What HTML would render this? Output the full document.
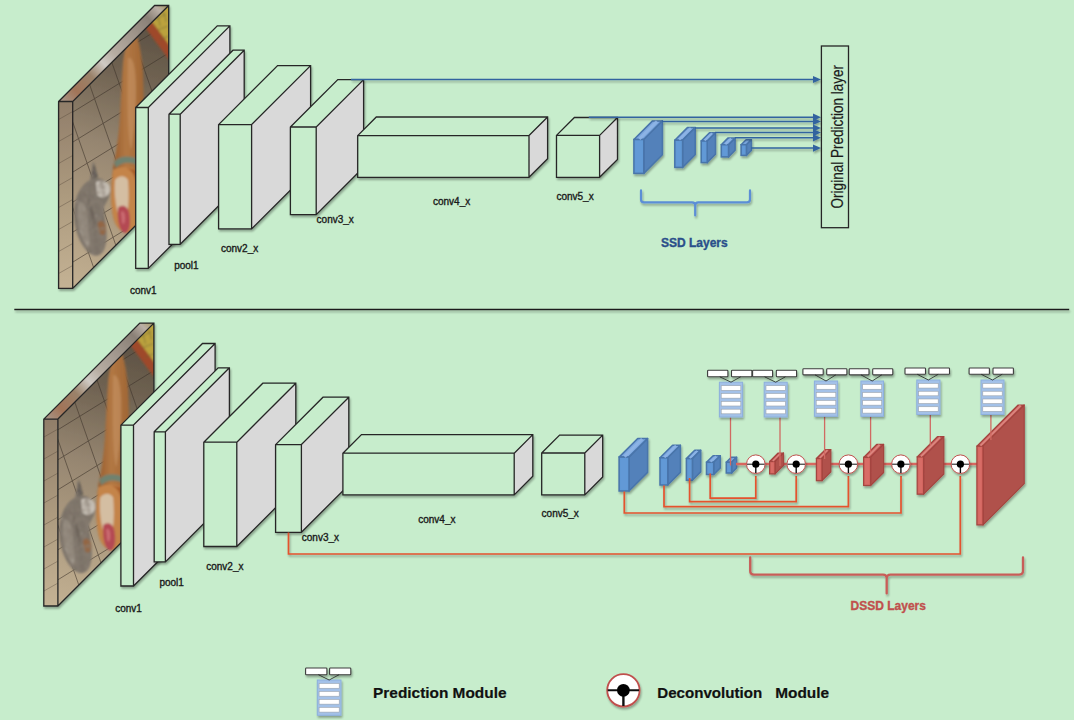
<!DOCTYPE html>
<html><head><meta charset="utf-8"><title>DSSD</title>
<style>
html,body{margin:0;padding:0;background:#c7edcc;}
body{width:1074px;height:720px;overflow:hidden;font-family:"Liberation Sans",sans-serif;}
svg{display:block;}
</style></head><body>
<svg width="1074" height="720" viewBox="0 0 1074 720" font-family="Liberation Sans, sans-serif">
<defs><filter id="sh" filterUnits="userSpaceOnUse" x="-100" y="-100" width="1300" height="1000"><feGaussianBlur in="SourceAlpha" stdDeviation="1.3"/><feOffset dx="0.8" dy="2" result="o"/><feComponentTransfer><feFuncA type="linear" slope="0.32"/></feComponentTransfer><feMerge><feMergeNode/><feMergeNode in="SourceGraphic"/></feMerge></filter></defs>
<rect width="1074" height="720" fill="#c7edcc"/>
<g id="netA"><defs>
<clipPath id="psa"><polygon points="72.7,101.5 168.7,5.5 168.7,192.4 72.7,288.4"/></clipPath>
<clipPath id="pfa"><rect x="58.6" y="101.5" width="14.1" height="186.9"/></clipPath>
<linearGradient id="fla" gradientUnits="userSpaceOnUse" x1="160" y1="10" x2="85" y2="285"><stop offset="0" stop-color="#574c3f"/><stop offset="0.25" stop-color="#706352"/><stop offset="0.5" stop-color="#958570"/><stop offset="0.75" stop-color="#ad9b80"/><stop offset="1" stop-color="#c0ae90"/></linearGradient>
<linearGradient id="ffa" x1="0" y1="0" x2="0" y2="1"><stop offset="0" stop-color="#917e6a"/><stop offset="0.5" stop-color="#ac9a7e"/><stop offset="1" stop-color="#c4b294"/></linearGradient>
<linearGradient id="fta" gradientUnits="userSpaceOnUse" x1="62" y1="104" x2="165" y2="2"><stop offset="0" stop-color="#a8988a"/><stop offset="0.13" stop-color="#a27458"/><stop offset="0.28" stop-color="#9a826a"/><stop offset="0.4" stop-color="#cfcac4"/><stop offset="0.5" stop-color="#b7ada2"/><stop offset="0.68" stop-color="#a0968c"/><stop offset="0.84" stop-color="#8a8076"/><stop offset="0.93" stop-color="#bab0a6"/><stop offset="1" stop-color="#a89a60"/></linearGradient>
<linearGradient id="dga" x1="0" y1="0" x2="1" y2="0"><stop offset="0" stop-color="#945a2c"/><stop offset="0.45" stop-color="#b27844"/><stop offset="1" stop-color="#a06634"/></linearGradient>
<filter id="bla" x="-20%" y="-20%" width="140%" height="140%"><feGaussianBlur stdDeviation="0.9"/></filter>
<filter id="txa" x="0" y="0" width="1" height="1"><feTurbulence type="fractalNoise" baseFrequency="0.18" numOctaves="2" seed="4" result="n"/><feColorMatrix in="n" type="matrix" values="0 0 0 0 0.25  0 0 0 0 0.21  0 0 0 0 0.17  1.8 0 0 0 -0.6" result="m"/><feComposite in="m" in2="SourceGraphic" operator="in"/></filter>
<filter id="tla" x="0" y="0" width="1" height="1"><feTurbulence type="fractalNoise" baseFrequency="0.2" numOctaves="2" seed="9" result="n"/><feColorMatrix in="n" type="matrix" values="0 0 0 0 0.72  0 0 0 0 0.69  0 0 0 0 0.64  1.2 0 0 0 -0.8" result="m"/><feComposite in="m" in2="SourceGraphic" operator="in"/></filter>
</defs>
<g filter="url(#sh)">
<g clip-path="url(#psa)">
<rect x="70" y="0" width="102" height="292" fill="url(#fla)"/>
<g stroke="#3b3128" stroke-width="0.9" opacity="0.62" fill="none">
<line x1="60" y1="-30" x2="180" y2="-104"/>
<line x1="60" y1="0" x2="180" y2="-74"/>
<line x1="60" y1="30" x2="180" y2="-44"/>
<line x1="60" y1="60" x2="180" y2="-14"/>
<line x1="60" y1="90" x2="180" y2="16"/>
<line x1="60" y1="120" x2="180" y2="46"/>
<line x1="60" y1="150" x2="180" y2="76"/>
<line x1="60" y1="180" x2="180" y2="106"/>
<line x1="60" y1="210" x2="180" y2="136"/>
<line x1="60" y1="240" x2="180" y2="166"/>
<line x1="60" y1="270" x2="180" y2="196"/>
<line x1="60" y1="300" x2="180" y2="226"/>
<line x1="60" y1="330" x2="180" y2="256"/>
<line x1="60" y1="360" x2="180" y2="286"/>
<line x1="60" y1="390" x2="180" y2="316"/>
<line x1="-150" y1="0" x2="-45" y2="300"/>
<line x1="-120" y1="0" x2="-15" y2="300"/>
<line x1="-90" y1="0" x2="15" y2="300"/>
<line x1="-60" y1="0" x2="45" y2="300"/>
<line x1="-30" y1="0" x2="75" y2="300"/>
<line x1="0" y1="0" x2="105" y2="300"/>
<line x1="30" y1="0" x2="135" y2="300"/>
<line x1="60" y1="0" x2="165" y2="300"/>
<line x1="90" y1="0" x2="195" y2="300"/>
<line x1="120" y1="0" x2="225" y2="300"/>
<line x1="150" y1="0" x2="255" y2="300"/>
<line x1="180" y1="0" x2="285" y2="300"/>
<line x1="210" y1="0" x2="315" y2="300"/>
<line x1="240" y1="0" x2="345" y2="300"/>
</g>
<g filter="url(#bla)">
<polygon points="144,26 150,19 170,45 170,61" fill="#9e4a2a"/>
<polygon points="150,19 170,3 170,46" fill="#bba23e"/>
<path d="M156 14 C158 18 160 22 160 26 M162 10 C164 14 166 18 166 22 M158 30 C162 28 166 27 168 26 M154 20 C158 18 162 16 166 14 M160 40 C163 38 166 37 169 36" stroke="#6b6436" stroke-width="0.8" fill="none" opacity="0.8"/>
<path d="M127 44 L137 36 C140 46 142 58 143 72 L144 110 L138 150 L137 232 C128 236 118 232 114 220 C110 204 111 184 113 168 C116 154 119 135 120 115 C121 95 122 75 123 62 C124 54 125 48 127 44Z" fill="url(#dga)"/>
<path d="M128 58 C132 56 136 64 136 90 C136 115 134 135 131 150 C128 140 127 110 128 58Z" fill="#d0a070" opacity="0.45"/>
<path d="M114 162 C119 156 129 155 137 159 L137 165 C129 161 120 163 116 168Z" fill="#6f8270"/>
<path d="M113 170 C120 166 130 166 137 170 L137 232 C128 236 118 232 114 220 C110 206 111 186 113 170Z" fill="#c4844a"/>
<path d="M115 180 C119 175 125 175 128 180 C129 192 129 206 127 214 C123 218 118 216 117 210 C115 200 114 190 115 180Z" fill="#d4bea2"/>
<path d="M126 168 C132 170 136 176 137 188 L137 170Z" fill="#a85e2a"/>
<path d="M118 208 C121 204 127 205 129 212 C131 222 130 232 125 233 C120 232 117 222 118 208Z" fill="#b44a52"/>
<path d="M121 212 C123 210 125 212 125 218 C125 224 123 226 122 222Z" fill="#d47a80" opacity="0.7"/>
<path d="M93 161 L97 178 C103 178 108 182 110 190 C110 198 106 202 104 207 C104 220 110 236 104 250 C100 258 92 257 86 250 C78 240 73 225 74 210 C75 195 82 184 90 180 Z" fill="#7b7268"/>
<path d="M78 205 C82 198 88 206 88 222 C88 234 92 244 88 248 C81 240 76 222 78 205Z" fill="#9c9286" opacity="0.8"/>
<path d="M84 192 C90 200 93 214 96 232" stroke="#5a5048" stroke-width="2.5" fill="none" opacity="0.5"/>
<path d="M96 182 C103 178 110 182 110 190 C109 197 102 200 97 195Z" fill="#c9c2b8"/>
<path d="M91 179 L94 163 L98 177Z" fill="#5a544e"/>
<path d="M98 222 C104 218 108 226 105 234 C101 238 97 232 98 222Z" fill="#9a6238" opacity="0.8"/>
<path d="M93 161 L97 178 C103 178 108 182 110 190 C110 198 106 202 104 207 C104 220 110 236 104 250 C100 258 92 257 86 250 C78 240 73 225 74 210 C75 195 82 184 90 180 Z" fill="#000" filter="url(#txa)"/>
<path d="M93 161 L97 178 C103 178 108 182 110 190 C110 198 106 202 104 207 C104 220 110 236 104 250 C100 258 92 257 86 250 C78 240 73 225 74 210 C75 195 82 184 90 180 Z" fill="#000" filter="url(#tla)"/>
</g></g>
<rect x="58.6" y="101.5" width="14.1" height="186.9" fill="url(#ffa)"/>
<g clip-path="url(#pfa)">
<line x1="58.6" y1="119.5" x2="72.7" y2="111.5" stroke="#4a3e32" stroke-width="0.7" opacity="0.5"/>
<line x1="58.6" y1="141.5" x2="72.7" y2="133.5" stroke="#4a3e32" stroke-width="0.7" opacity="0.5"/>
<line x1="58.6" y1="163.5" x2="72.7" y2="155.5" stroke="#4a3e32" stroke-width="0.7" opacity="0.5"/>
<line x1="58.6" y1="185.5" x2="72.7" y2="177.5" stroke="#4a3e32" stroke-width="0.7" opacity="0.5"/>
<line x1="58.6" y1="207.5" x2="72.7" y2="199.5" stroke="#4a3e32" stroke-width="0.7" opacity="0.5"/>
<line x1="58.6" y1="229.5" x2="72.7" y2="221.5" stroke="#4a3e32" stroke-width="0.7" opacity="0.5"/>
<line x1="58.6" y1="251.5" x2="72.7" y2="243.5" stroke="#4a3e32" stroke-width="0.7" opacity="0.5"/>
<line x1="58.6" y1="273.5" x2="72.7" y2="265.5" stroke="#4a3e32" stroke-width="0.7" opacity="0.5"/>
<line x1="58.6" y1="295.5" x2="72.7" y2="287.5" stroke="#4a3e32" stroke-width="0.7" opacity="0.5"/>
<line x1="58.6" y1="317.5" x2="72.7" y2="309.5" stroke="#4a3e32" stroke-width="0.7" opacity="0.5"/>
</g>
<polygon points="58.6,101.5 154.6,5.5 168.7,5.5 72.7,101.5" fill="url(#fta)"/>
<path d="M58.6 101.5L154.6 5.5L168.7 5.5L168.7 192.4L72.7 288.4L58.6 288.4Z M58.6 101.5L72.7 101.5 M72.7 288.4L72.7 101.5L168.7 5.5" fill="none" stroke="#262626" stroke-width="1.3"/>
</g>
<g filter="url(#sh)">
<polygon points="135.7,107.5 217.3,25.9 229.9,25.9 148.3,107.5" fill="#c7edcc"/>
<polygon points="148.3,107.5 229.9,25.9 229.9,186.8 148.3,268.4" fill="#d9d9d9"/>
<rect x="135.7" y="107.5" width="12.6" height="160.9" fill="#c7edcc"/>
<path d="M135.7 107.5L217.3 25.9L229.9 25.9L229.9 186.8L148.3 268.4L135.7 268.4Z M135.7 107.5L148.3 107.5 M148.3 268.4L148.3 107.5L229.9 25.9" fill="none" stroke="#262626" stroke-width="1.3" stroke-linejoin="miter"/>
</g>
<g filter="url(#sh)">
<polygon points="169,114.2 233,50.2 244.2,50.2 180.2,114.2" fill="#c7edcc"/>
<polygon points="180.2,114.2 244.2,50.2 244.2,180.3 180.2,244.3" fill="#d9d9d9"/>
<rect x="169" y="114.2" width="11.2" height="130.1" fill="#c7edcc"/>
<path d="M169 114.2L233 50.2L244.2 50.2L244.2 180.3L180.2 244.3L169 244.3Z M169 114.2L180.2 114.2 M180.2 244.3L180.2 114.2L244.2 50.2" fill="none" stroke="#262626" stroke-width="1.3" stroke-linejoin="miter"/>
</g>
<g filter="url(#sh)">
<polygon points="218.6,124.6 277.6,65.6 310.6,65.6 251.6,124.6" fill="#c7edcc"/>
<polygon points="251.6,124.6 310.6,65.6 310.6,169.9 251.6,228.9" fill="#d9d9d9"/>
<rect x="218.6" y="124.6" width="33" height="104.3" fill="#c7edcc"/>
<path d="M218.6 124.6L277.6 65.6L310.6 65.6L310.6 169.9L251.6 228.9L218.6 228.9Z M218.6 124.6L251.6 124.6 M251.6 228.9L251.6 124.6L310.6 65.6" fill="none" stroke="#262626" stroke-width="1.3" stroke-linejoin="miter"/>
</g>
<g filter="url(#sh)">
<polygon points="290.4,127 337.8,79.6 363.6,79.6 316.2,127" fill="#c7edcc"/>
<polygon points="316.2,127 363.6,79.6 363.6,167.3 316.2,214.7" fill="#d9d9d9"/>
<rect x="290.4" y="127" width="25.8" height="87.7" fill="#c7edcc"/>
<path d="M290.4 127L337.8 79.6L363.6 79.6L363.6 167.3L316.2 214.7L290.4 214.7Z M290.4 127L316.2 127 M316.2 214.7L316.2 127L363.6 79.6" fill="none" stroke="#262626" stroke-width="1.3" stroke-linejoin="miter"/>
</g>
<g filter="url(#sh)">
<polygon points="357.7,135.6 376.3,117 547.6,117 529,135.6" fill="#c7edcc"/>
<polygon points="529,135.6 547.6,117 547.6,158.7 529,177.3" fill="#d9d9d9"/>
<rect x="357.7" y="135.6" width="171.3" height="41.7" fill="#c7edcc"/>
<path d="M357.7 135.6L376.3 117L547.6 117L547.6 158.7L529 177.3L357.7 177.3Z M357.7 135.6L529 135.6 M529 177.3L529 135.6L547.6 117" fill="none" stroke="#262626" stroke-width="1.3" stroke-linejoin="miter"/>
</g>
<g filter="url(#sh)">
<polygon points="556.5,135.4 574.4,117.5 617.5,117.5 599.6,135.4" fill="#c7edcc"/>
<polygon points="599.6,135.4 617.5,117.5 617.5,159.4 599.6,177.3" fill="#d9d9d9"/>
<rect x="556.5" y="135.4" width="43.1" height="41.9" fill="#c7edcc"/>
<path d="M556.5 135.4L574.4 117.5L617.5 117.5L617.5 159.4L599.6 177.3L556.5 177.3Z M556.5 135.4L599.6 135.4 M599.6 177.3L599.6 135.4L617.5 117.5" fill="none" stroke="#262626" stroke-width="1.3" stroke-linejoin="miter"/>
</g>
<g filter="url(#sh)">
<polygon points="633.9,139.5 652.5,120.9 662.4,120.9 643.8,139.5" fill="#7aa6dd" stroke="#4874aa" stroke-width="1.5" stroke-linejoin="round"/>
<polygon points="643.8,139.5 662.4,120.9 662.4,154.8 643.8,173.4" fill="#5381ba" stroke="#4874aa" stroke-width="1.5" stroke-linejoin="round"/>
<rect x="633.9" y="139.5" width="9.9" height="33.9" fill="#6198d5" stroke="#4874aa" stroke-width="1.5"/>
<line x1="639.35" y1="139" x2="656.95" y2="121.4" stroke="#8fb5e6" stroke-width="2.97" stroke-linecap="butt" opacity="0.9"/>
<rect x="635.6" y="141" width="6.5" height="30.9" fill="#6299d6"/>
</g>
<g filter="url(#sh)">
<polygon points="674.8,140.2 687.4,127.6 695.2,127.6 682.6,140.2" fill="#7aa6dd" stroke="#4874aa" stroke-width="1.5" stroke-linejoin="round"/>
<polygon points="682.6,140.2 695.2,127.6 695.2,154.8 682.6,167.4" fill="#5381ba" stroke="#4874aa" stroke-width="1.5" stroke-linejoin="round"/>
<rect x="674.8" y="140.2" width="7.8" height="27.2" fill="#6198d5" stroke="#4874aa" stroke-width="1.5"/>
<line x1="679.2" y1="139.7" x2="690.8" y2="128.1" stroke="#8fb5e6" stroke-width="2.34" stroke-linecap="butt" opacity="0.9"/>
<rect x="676.5" y="141.7" width="4.4" height="24.2" fill="#6299d6"/>
</g>
<g filter="url(#sh)">
<polygon points="701.2,141 709.5,132.7 715.5,132.7 707.2,141" fill="#7aa6dd" stroke="#4874aa" stroke-width="1.5" stroke-linejoin="round"/>
<polygon points="707.2,141 715.5,132.7 715.5,154.3 707.2,162.6" fill="#5381ba" stroke="#4874aa" stroke-width="1.5" stroke-linejoin="round"/>
<rect x="701.2" y="141" width="6" height="21.6" fill="#6198d5" stroke="#4874aa" stroke-width="1.5"/>
<line x1="704.7" y1="140.5" x2="712" y2="133.2" stroke="#8fb5e6" stroke-width="1.8" stroke-linecap="butt" opacity="0.9"/>
<rect x="702.9" y="142.5" width="2.6" height="18.6" fill="#6299d6"/>
</g>
<g filter="url(#sh)">
<polygon points="721.3,144.7 727.9,138.1 735.1,138.1 728.5,144.7" fill="#7aa6dd" stroke="#4874aa" stroke-width="1.5" stroke-linejoin="round"/>
<polygon points="728.5,144.7 735.1,138.1 735.1,150.3 728.5,156.9" fill="#5381ba" stroke="#4874aa" stroke-width="1.5" stroke-linejoin="round"/>
<rect x="721.3" y="144.7" width="7.2" height="12.2" fill="#6198d5" stroke="#4874aa" stroke-width="1.5"/>
<line x1="725.4" y1="144.2" x2="731" y2="138.6" stroke="#8fb5e6" stroke-width="2.16" stroke-linecap="butt" opacity="0.9"/>
<rect x="723" y="146.2" width="3.8" height="9.2" fill="#6299d6"/>
</g>
<g filter="url(#sh)">
<polygon points="741.1,144.7 746.1,139.7 751.4,139.7 746.4,144.7" fill="#7aa6dd" stroke="#4874aa" stroke-width="1.5" stroke-linejoin="round"/>
<polygon points="746.4,144.7 751.4,139.7 751.4,150.4 746.4,155.4" fill="#5381ba" stroke="#4874aa" stroke-width="1.5" stroke-linejoin="round"/>
<rect x="741.1" y="144.7" width="5.3" height="10.7" fill="#6198d5" stroke="#4874aa" stroke-width="1.5"/>
<rect x="742.8" y="146.2" width="1.9" height="7.7" fill="#6299d6"/>
</g>
<text x="130" y="294" font-size="10" fill="#1a1a1a" font-weight="normal" stroke="#1a1a1a" stroke-width="0.35">conv1</text>
<text x="174.2" y="268.5" font-size="10" fill="#1a1a1a" font-weight="normal" stroke="#1a1a1a" stroke-width="0.35">pool1</text>
<text x="221" y="252.3" font-size="10" fill="#1a1a1a" font-weight="normal" stroke="#1a1a1a" stroke-width="0.35">conv2_x</text>
<text x="316.6" y="223.2" font-size="10" fill="#1a1a1a" font-weight="normal" stroke="#1a1a1a" stroke-width="0.35">conv3_x</text>
<text x="433" y="205.1" font-size="10" fill="#1a1a1a" font-weight="normal" stroke="#1a1a1a" stroke-width="0.35">conv4_x</text>
<text x="556.4" y="199.7" font-size="10" fill="#1a1a1a" font-weight="normal" stroke="#1a1a1a" stroke-width="0.35">conv5_x</text></g>
<g filter="url(#sh)">
<line x1="351" y1="79.5" x2="814" y2="79.5" stroke="#33649f" stroke-width="1.5"/>
<polygon points="813,75.9 821,79.5 813,83.1" fill="#33649f"/>
<line x1="588.8" y1="117.2" x2="814" y2="117.2" stroke="#33649f" stroke-width="1.5"/>
<polygon points="813,113.6 821,117.2 813,120.8" fill="#33649f"/>
<line x1="662" y1="121.4" x2="814" y2="121.4" stroke="#33649f" stroke-width="1.5"/>
<polygon points="813,117.8 821,121.4 813,125" fill="#33649f"/>
<line x1="695" y1="128" x2="814" y2="128" stroke="#33649f" stroke-width="1.5"/>
<polygon points="813,124.4 821,128 813,131.6" fill="#33649f"/>
<line x1="715" y1="132.6" x2="814" y2="132.6" stroke="#33649f" stroke-width="1.5"/>
<polygon points="813,129 821,132.6 813,136.2" fill="#33649f"/>
<line x1="735" y1="137.8" x2="814" y2="137.8" stroke="#33649f" stroke-width="1.5"/>
<polygon points="813,134.2 821,137.8 813,141.4" fill="#33649f"/>
<line x1="751" y1="148.1" x2="814" y2="148.1" stroke="#33649f" stroke-width="1.5"/>
<polygon points="813,144.5 821,148.1 813,151.7" fill="#33649f"/>
</g>
<rect x="821.4" y="46" width="27.1" height="181.7" fill="none" stroke="#262626" stroke-width="1.3"/>
<text transform="translate(842.6,136.7) rotate(-90)" x="-71.7" y="0" textLength="143.4" lengthAdjust="spacingAndGlyphs" font-size="16" fill="#1a1a1a" stroke="#1a1a1a" stroke-width="0.2">Original Prediction layer</text>
<path filter="url(#sh)" d="M641 190.4 V199.5 Q641 202.3 644 202.3 H692 Q695.2 202.3 695.2 205.5 V215.5 M695.2 205.5 Q695.2 202.3 698.4 202.3 H747 Q750 202.3 750 199.5 V190.4" fill="none" stroke="#5b8ed6" stroke-width="2.2" stroke-linecap="round"/>
<text x="661" y="247.2" font-size="12" fill="#2a4f8a" font-weight="bold" stroke="#2a4f8a" stroke-width="0.35">SSD Layers</text>
<line filter="url(#sh)" x1="14.3" y1="309.5" x2="1069.2" y2="309.5" stroke="#1e1e1e" stroke-width="1.4"/>
<g transform="translate(-14.8,317.6)"><defs>
<clipPath id="psb"><polygon points="72.7,101.5 168.7,5.5 168.7,192.4 72.7,288.4"/></clipPath>
<clipPath id="pfb"><rect x="58.6" y="101.5" width="14.1" height="186.9"/></clipPath>
<linearGradient id="flb" gradientUnits="userSpaceOnUse" x1="160" y1="10" x2="85" y2="285"><stop offset="0" stop-color="#574c3f"/><stop offset="0.25" stop-color="#706352"/><stop offset="0.5" stop-color="#958570"/><stop offset="0.75" stop-color="#ad9b80"/><stop offset="1" stop-color="#c0ae90"/></linearGradient>
<linearGradient id="ffb" x1="0" y1="0" x2="0" y2="1"><stop offset="0" stop-color="#917e6a"/><stop offset="0.5" stop-color="#ac9a7e"/><stop offset="1" stop-color="#c4b294"/></linearGradient>
<linearGradient id="ftb" gradientUnits="userSpaceOnUse" x1="62" y1="104" x2="165" y2="2"><stop offset="0" stop-color="#a8988a"/><stop offset="0.13" stop-color="#a27458"/><stop offset="0.28" stop-color="#9a826a"/><stop offset="0.4" stop-color="#cfcac4"/><stop offset="0.5" stop-color="#b7ada2"/><stop offset="0.68" stop-color="#a0968c"/><stop offset="0.84" stop-color="#8a8076"/><stop offset="0.93" stop-color="#bab0a6"/><stop offset="1" stop-color="#a89a60"/></linearGradient>
<linearGradient id="dgb" x1="0" y1="0" x2="1" y2="0"><stop offset="0" stop-color="#945a2c"/><stop offset="0.45" stop-color="#b27844"/><stop offset="1" stop-color="#a06634"/></linearGradient>
<filter id="blb" x="-20%" y="-20%" width="140%" height="140%"><feGaussianBlur stdDeviation="0.9"/></filter>
<filter id="txb" x="0" y="0" width="1" height="1"><feTurbulence type="fractalNoise" baseFrequency="0.18" numOctaves="2" seed="4" result="n"/><feColorMatrix in="n" type="matrix" values="0 0 0 0 0.25  0 0 0 0 0.21  0 0 0 0 0.17  1.8 0 0 0 -0.6" result="m"/><feComposite in="m" in2="SourceGraphic" operator="in"/></filter>
<filter id="tlb" x="0" y="0" width="1" height="1"><feTurbulence type="fractalNoise" baseFrequency="0.2" numOctaves="2" seed="9" result="n"/><feColorMatrix in="n" type="matrix" values="0 0 0 0 0.72  0 0 0 0 0.69  0 0 0 0 0.64  1.2 0 0 0 -0.8" result="m"/><feComposite in="m" in2="SourceGraphic" operator="in"/></filter>
</defs>
<g filter="url(#sh)">
<g clip-path="url(#psb)">
<rect x="70" y="0" width="102" height="292" fill="url(#flb)"/>
<g stroke="#3b3128" stroke-width="0.9" opacity="0.62" fill="none">
<line x1="60" y1="-30" x2="180" y2="-104"/>
<line x1="60" y1="0" x2="180" y2="-74"/>
<line x1="60" y1="30" x2="180" y2="-44"/>
<line x1="60" y1="60" x2="180" y2="-14"/>
<line x1="60" y1="90" x2="180" y2="16"/>
<line x1="60" y1="120" x2="180" y2="46"/>
<line x1="60" y1="150" x2="180" y2="76"/>
<line x1="60" y1="180" x2="180" y2="106"/>
<line x1="60" y1="210" x2="180" y2="136"/>
<line x1="60" y1="240" x2="180" y2="166"/>
<line x1="60" y1="270" x2="180" y2="196"/>
<line x1="60" y1="300" x2="180" y2="226"/>
<line x1="60" y1="330" x2="180" y2="256"/>
<line x1="60" y1="360" x2="180" y2="286"/>
<line x1="60" y1="390" x2="180" y2="316"/>
<line x1="-150" y1="0" x2="-45" y2="300"/>
<line x1="-120" y1="0" x2="-15" y2="300"/>
<line x1="-90" y1="0" x2="15" y2="300"/>
<line x1="-60" y1="0" x2="45" y2="300"/>
<line x1="-30" y1="0" x2="75" y2="300"/>
<line x1="0" y1="0" x2="105" y2="300"/>
<line x1="30" y1="0" x2="135" y2="300"/>
<line x1="60" y1="0" x2="165" y2="300"/>
<line x1="90" y1="0" x2="195" y2="300"/>
<line x1="120" y1="0" x2="225" y2="300"/>
<line x1="150" y1="0" x2="255" y2="300"/>
<line x1="180" y1="0" x2="285" y2="300"/>
<line x1="210" y1="0" x2="315" y2="300"/>
<line x1="240" y1="0" x2="345" y2="300"/>
</g>
<g filter="url(#blb)">
<polygon points="144,26 150,19 170,45 170,61" fill="#9e4a2a"/>
<polygon points="150,19 170,3 170,46" fill="#bba23e"/>
<path d="M156 14 C158 18 160 22 160 26 M162 10 C164 14 166 18 166 22 M158 30 C162 28 166 27 168 26 M154 20 C158 18 162 16 166 14 M160 40 C163 38 166 37 169 36" stroke="#6b6436" stroke-width="0.8" fill="none" opacity="0.8"/>
<path d="M127 44 L137 36 C140 46 142 58 143 72 L144 110 L138 150 L137 232 C128 236 118 232 114 220 C110 204 111 184 113 168 C116 154 119 135 120 115 C121 95 122 75 123 62 C124 54 125 48 127 44Z" fill="url(#dgb)"/>
<path d="M128 58 C132 56 136 64 136 90 C136 115 134 135 131 150 C128 140 127 110 128 58Z" fill="#d0a070" opacity="0.45"/>
<path d="M114 162 C119 156 129 155 137 159 L137 165 C129 161 120 163 116 168Z" fill="#6f8270"/>
<path d="M113 170 C120 166 130 166 137 170 L137 232 C128 236 118 232 114 220 C110 206 111 186 113 170Z" fill="#c4844a"/>
<path d="M115 180 C119 175 125 175 128 180 C129 192 129 206 127 214 C123 218 118 216 117 210 C115 200 114 190 115 180Z" fill="#d4bea2"/>
<path d="M126 168 C132 170 136 176 137 188 L137 170Z" fill="#a85e2a"/>
<path d="M118 208 C121 204 127 205 129 212 C131 222 130 232 125 233 C120 232 117 222 118 208Z" fill="#b44a52"/>
<path d="M121 212 C123 210 125 212 125 218 C125 224 123 226 122 222Z" fill="#d47a80" opacity="0.7"/>
<path d="M93 161 L97 178 C103 178 108 182 110 190 C110 198 106 202 104 207 C104 220 110 236 104 250 C100 258 92 257 86 250 C78 240 73 225 74 210 C75 195 82 184 90 180 Z" fill="#7b7268"/>
<path d="M78 205 C82 198 88 206 88 222 C88 234 92 244 88 248 C81 240 76 222 78 205Z" fill="#9c9286" opacity="0.8"/>
<path d="M84 192 C90 200 93 214 96 232" stroke="#5a5048" stroke-width="2.5" fill="none" opacity="0.5"/>
<path d="M96 182 C103 178 110 182 110 190 C109 197 102 200 97 195Z" fill="#c9c2b8"/>
<path d="M91 179 L94 163 L98 177Z" fill="#5a544e"/>
<path d="M98 222 C104 218 108 226 105 234 C101 238 97 232 98 222Z" fill="#9a6238" opacity="0.8"/>
<path d="M93 161 L97 178 C103 178 108 182 110 190 C110 198 106 202 104 207 C104 220 110 236 104 250 C100 258 92 257 86 250 C78 240 73 225 74 210 C75 195 82 184 90 180 Z" fill="#000" filter="url(#txb)"/>
<path d="M93 161 L97 178 C103 178 108 182 110 190 C110 198 106 202 104 207 C104 220 110 236 104 250 C100 258 92 257 86 250 C78 240 73 225 74 210 C75 195 82 184 90 180 Z" fill="#000" filter="url(#tlb)"/>
</g></g>
<rect x="58.6" y="101.5" width="14.1" height="186.9" fill="url(#ffb)"/>
<g clip-path="url(#pfb)">
<line x1="58.6" y1="119.5" x2="72.7" y2="111.5" stroke="#4a3e32" stroke-width="0.7" opacity="0.5"/>
<line x1="58.6" y1="141.5" x2="72.7" y2="133.5" stroke="#4a3e32" stroke-width="0.7" opacity="0.5"/>
<line x1="58.6" y1="163.5" x2="72.7" y2="155.5" stroke="#4a3e32" stroke-width="0.7" opacity="0.5"/>
<line x1="58.6" y1="185.5" x2="72.7" y2="177.5" stroke="#4a3e32" stroke-width="0.7" opacity="0.5"/>
<line x1="58.6" y1="207.5" x2="72.7" y2="199.5" stroke="#4a3e32" stroke-width="0.7" opacity="0.5"/>
<line x1="58.6" y1="229.5" x2="72.7" y2="221.5" stroke="#4a3e32" stroke-width="0.7" opacity="0.5"/>
<line x1="58.6" y1="251.5" x2="72.7" y2="243.5" stroke="#4a3e32" stroke-width="0.7" opacity="0.5"/>
<line x1="58.6" y1="273.5" x2="72.7" y2="265.5" stroke="#4a3e32" stroke-width="0.7" opacity="0.5"/>
<line x1="58.6" y1="295.5" x2="72.7" y2="287.5" stroke="#4a3e32" stroke-width="0.7" opacity="0.5"/>
<line x1="58.6" y1="317.5" x2="72.7" y2="309.5" stroke="#4a3e32" stroke-width="0.7" opacity="0.5"/>
</g>
<polygon points="58.6,101.5 154.6,5.5 168.7,5.5 72.7,101.5" fill="url(#ftb)"/>
<path d="M58.6 101.5L154.6 5.5L168.7 5.5L168.7 192.4L72.7 288.4L58.6 288.4Z M58.6 101.5L72.7 101.5 M72.7 288.4L72.7 101.5L168.7 5.5" fill="none" stroke="#262626" stroke-width="1.3"/>
</g>
<g filter="url(#sh)">
<polygon points="135.7,107.5 217.3,25.9 229.9,25.9 148.3,107.5" fill="#c7edcc"/>
<polygon points="148.3,107.5 229.9,25.9 229.9,186.8 148.3,268.4" fill="#d9d9d9"/>
<rect x="135.7" y="107.5" width="12.6" height="160.9" fill="#c7edcc"/>
<path d="M135.7 107.5L217.3 25.9L229.9 25.9L229.9 186.8L148.3 268.4L135.7 268.4Z M135.7 107.5L148.3 107.5 M148.3 268.4L148.3 107.5L229.9 25.9" fill="none" stroke="#262626" stroke-width="1.3" stroke-linejoin="miter"/>
</g>
<g filter="url(#sh)">
<polygon points="169,114.2 233,50.2 244.2,50.2 180.2,114.2" fill="#c7edcc"/>
<polygon points="180.2,114.2 244.2,50.2 244.2,180.3 180.2,244.3" fill="#d9d9d9"/>
<rect x="169" y="114.2" width="11.2" height="130.1" fill="#c7edcc"/>
<path d="M169 114.2L233 50.2L244.2 50.2L244.2 180.3L180.2 244.3L169 244.3Z M169 114.2L180.2 114.2 M180.2 244.3L180.2 114.2L244.2 50.2" fill="none" stroke="#262626" stroke-width="1.3" stroke-linejoin="miter"/>
</g>
<g filter="url(#sh)">
<polygon points="218.6,124.6 277.6,65.6 310.6,65.6 251.6,124.6" fill="#c7edcc"/>
<polygon points="251.6,124.6 310.6,65.6 310.6,169.9 251.6,228.9" fill="#d9d9d9"/>
<rect x="218.6" y="124.6" width="33" height="104.3" fill="#c7edcc"/>
<path d="M218.6 124.6L277.6 65.6L310.6 65.6L310.6 169.9L251.6 228.9L218.6 228.9Z M218.6 124.6L251.6 124.6 M251.6 228.9L251.6 124.6L310.6 65.6" fill="none" stroke="#262626" stroke-width="1.3" stroke-linejoin="miter"/>
</g>
<g filter="url(#sh)">
<polygon points="290.4,127 337.8,79.6 363.6,79.6 316.2,127" fill="#c7edcc"/>
<polygon points="316.2,127 363.6,79.6 363.6,167.3 316.2,214.7" fill="#d9d9d9"/>
<rect x="290.4" y="127" width="25.8" height="87.7" fill="#c7edcc"/>
<path d="M290.4 127L337.8 79.6L363.6 79.6L363.6 167.3L316.2 214.7L290.4 214.7Z M290.4 127L316.2 127 M316.2 214.7L316.2 127L363.6 79.6" fill="none" stroke="#262626" stroke-width="1.3" stroke-linejoin="miter"/>
</g>
<g filter="url(#sh)">
<polygon points="357.7,135.6 376.3,117 547.6,117 529,135.6" fill="#c7edcc"/>
<polygon points="529,135.6 547.6,117 547.6,158.7 529,177.3" fill="#d9d9d9"/>
<rect x="357.7" y="135.6" width="171.3" height="41.7" fill="#c7edcc"/>
<path d="M357.7 135.6L376.3 117L547.6 117L547.6 158.7L529 177.3L357.7 177.3Z M357.7 135.6L529 135.6 M529 177.3L529 135.6L547.6 117" fill="none" stroke="#262626" stroke-width="1.3" stroke-linejoin="miter"/>
</g>
<g filter="url(#sh)">
<polygon points="556.5,135.4 574.4,117.5 617.5,117.5 599.6,135.4" fill="#c7edcc"/>
<polygon points="599.6,135.4 617.5,117.5 617.5,159.4 599.6,177.3" fill="#d9d9d9"/>
<rect x="556.5" y="135.4" width="43.1" height="41.9" fill="#c7edcc"/>
<path d="M556.5 135.4L574.4 117.5L617.5 117.5L617.5 159.4L599.6 177.3L556.5 177.3Z M556.5 135.4L599.6 135.4 M599.6 177.3L599.6 135.4L617.5 117.5" fill="none" stroke="#262626" stroke-width="1.3" stroke-linejoin="miter"/>
</g>
<g filter="url(#sh)">
<polygon points="633.9,139.5 652.5,120.9 662.4,120.9 643.8,139.5" fill="#7aa6dd" stroke="#4874aa" stroke-width="1.5" stroke-linejoin="round"/>
<polygon points="643.8,139.5 662.4,120.9 662.4,154.8 643.8,173.4" fill="#5381ba" stroke="#4874aa" stroke-width="1.5" stroke-linejoin="round"/>
<rect x="633.9" y="139.5" width="9.9" height="33.9" fill="#6198d5" stroke="#4874aa" stroke-width="1.5"/>
<line x1="639.35" y1="139" x2="656.95" y2="121.4" stroke="#8fb5e6" stroke-width="2.97" stroke-linecap="butt" opacity="0.9"/>
<rect x="635.6" y="141" width="6.5" height="30.9" fill="#6299d6"/>
</g>
<g filter="url(#sh)">
<polygon points="674.8,140.2 687.4,127.6 695.2,127.6 682.6,140.2" fill="#7aa6dd" stroke="#4874aa" stroke-width="1.5" stroke-linejoin="round"/>
<polygon points="682.6,140.2 695.2,127.6 695.2,154.8 682.6,167.4" fill="#5381ba" stroke="#4874aa" stroke-width="1.5" stroke-linejoin="round"/>
<rect x="674.8" y="140.2" width="7.8" height="27.2" fill="#6198d5" stroke="#4874aa" stroke-width="1.5"/>
<line x1="679.2" y1="139.7" x2="690.8" y2="128.1" stroke="#8fb5e6" stroke-width="2.34" stroke-linecap="butt" opacity="0.9"/>
<rect x="676.5" y="141.7" width="4.4" height="24.2" fill="#6299d6"/>
</g>
<g filter="url(#sh)">
<polygon points="701.2,141 709.5,132.7 715.5,132.7 707.2,141" fill="#7aa6dd" stroke="#4874aa" stroke-width="1.5" stroke-linejoin="round"/>
<polygon points="707.2,141 715.5,132.7 715.5,154.3 707.2,162.6" fill="#5381ba" stroke="#4874aa" stroke-width="1.5" stroke-linejoin="round"/>
<rect x="701.2" y="141" width="6" height="21.6" fill="#6198d5" stroke="#4874aa" stroke-width="1.5"/>
<line x1="704.7" y1="140.5" x2="712" y2="133.2" stroke="#8fb5e6" stroke-width="1.8" stroke-linecap="butt" opacity="0.9"/>
<rect x="702.9" y="142.5" width="2.6" height="18.6" fill="#6299d6"/>
</g>
<g filter="url(#sh)">
<polygon points="721.3,144.7 727.9,138.1 735.1,138.1 728.5,144.7" fill="#7aa6dd" stroke="#4874aa" stroke-width="1.5" stroke-linejoin="round"/>
<polygon points="728.5,144.7 735.1,138.1 735.1,150.3 728.5,156.9" fill="#5381ba" stroke="#4874aa" stroke-width="1.5" stroke-linejoin="round"/>
<rect x="721.3" y="144.7" width="7.2" height="12.2" fill="#6198d5" stroke="#4874aa" stroke-width="1.5"/>
<line x1="725.4" y1="144.2" x2="731" y2="138.6" stroke="#8fb5e6" stroke-width="2.16" stroke-linecap="butt" opacity="0.9"/>
<rect x="723" y="146.2" width="3.8" height="9.2" fill="#6299d6"/>
</g>
<g filter="url(#sh)">
<polygon points="741.1,144.7 746.1,139.7 751.4,139.7 746.4,144.7" fill="#7aa6dd" stroke="#4874aa" stroke-width="1.5" stroke-linejoin="round"/>
<polygon points="746.4,144.7 751.4,139.7 751.4,150.4 746.4,155.4" fill="#5381ba" stroke="#4874aa" stroke-width="1.5" stroke-linejoin="round"/>
<rect x="741.1" y="144.7" width="5.3" height="10.7" fill="#6198d5" stroke="#4874aa" stroke-width="1.5"/>
<rect x="742.8" y="146.2" width="1.9" height="7.7" fill="#6299d6"/>
</g>
<text x="130" y="294" font-size="10" fill="#1a1a1a" font-weight="normal" stroke="#1a1a1a" stroke-width="0.35">conv1</text>
<text x="174.2" y="268.5" font-size="10" fill="#1a1a1a" font-weight="normal" stroke="#1a1a1a" stroke-width="0.35">pool1</text>
<text x="221" y="252.3" font-size="10" fill="#1a1a1a" font-weight="normal" stroke="#1a1a1a" stroke-width="0.35">conv2_x</text>
<text x="316.6" y="223.2" font-size="10" fill="#1a1a1a" font-weight="normal" stroke="#1a1a1a" stroke-width="0.35">conv3_x</text>
<text x="433" y="205.1" font-size="10" fill="#1a1a1a" font-weight="normal" stroke="#1a1a1a" stroke-width="0.35">conv4_x</text>
<text x="556.4" y="199.7" font-size="10" fill="#1a1a1a" font-weight="normal" stroke="#1a1a1a" stroke-width="0.35">conv5_x</text></g>
<g filter="url(#sh)">
<path d="M710.2 473.5 V498.1 H755.8 V476" fill="none" stroke="#e4532e" stroke-width="1.7"/>
<path d="M689.6 478 V501.6 H796.2 V476" fill="none" stroke="#e4532e" stroke-width="1.7"/>
<path d="M664 485.5 V506.6 H848.4 V476" fill="none" stroke="#e4532e" stroke-width="1.7"/>
<path d="M624.3 491.5 V513 H901 V476" fill="none" stroke="#e4532e" stroke-width="1.7"/>
<path d="M288.5 532.5 V554 H960.3 V476" fill="none" stroke="#e4532e" stroke-width="1.7"/>
<line x1="736" y1="464.1" x2="978" y2="464.1" stroke="#d9665e" stroke-width="2.5"/>
</g>
<g filter="url(#sh)">
<polygon points="769.6,461.5 778.1,453 783.5,453 775,461.5" fill="#bc5550" stroke="#a4443f" stroke-width="1.2" stroke-linejoin="round"/>
<polygon points="775,461.5 783.5,453 783.5,465.4 775,473.9" fill="#b0514c" stroke="#a4443f" stroke-width="1.2" stroke-linejoin="round"/>
<rect x="769.6" y="461.5" width="5.4" height="12.4" fill="#d2645e" stroke="#a4443f" stroke-width="1.2"/>
<line x1="772.8" y1="461" x2="780.3" y2="453.5" stroke="#e08a84" stroke-width="1.62" stroke-linecap="butt" opacity="0.9"/>
<rect x="771" y="462.7" width="2.6" height="10" fill="#d86c66"/>
</g>
<g filter="url(#sh)">
<polygon points="816.4,458.5 825.2,449.7 830.8,449.7 822,458.5" fill="#bc5550" stroke="#a4443f" stroke-width="1.2" stroke-linejoin="round"/>
<polygon points="822,458.5 830.8,449.7 830.8,471.9 822,480.7" fill="#b0514c" stroke="#a4443f" stroke-width="1.2" stroke-linejoin="round"/>
<rect x="816.4" y="458.5" width="5.6" height="22.2" fill="#d2645e" stroke="#a4443f" stroke-width="1.2"/>
<line x1="819.7" y1="458" x2="827.5" y2="450.2" stroke="#e08a84" stroke-width="1.68" stroke-linecap="butt" opacity="0.9"/>
<rect x="817.8" y="459.7" width="2.8" height="19.8" fill="#d86c66"/>
</g>
<g filter="url(#sh)">
<polygon points="863.6,457.3 876.6,444.3 883.6,444.3 870.6,457.3" fill="#bc5550" stroke="#a4443f" stroke-width="1.2" stroke-linejoin="round"/>
<polygon points="870.6,457.3 883.6,444.3 883.6,472.5 870.6,485.5" fill="#b0514c" stroke="#a4443f" stroke-width="1.2" stroke-linejoin="round"/>
<rect x="863.6" y="457.3" width="7" height="28.2" fill="#d2645e" stroke="#a4443f" stroke-width="1.2"/>
<line x1="867.6" y1="456.8" x2="879.6" y2="444.8" stroke="#e08a84" stroke-width="2.1" stroke-linecap="butt" opacity="0.9"/>
<rect x="865" y="458.5" width="4.2" height="25.8" fill="#d86c66"/>
</g>
<g filter="url(#sh)">
<polygon points="917.2,456.9 937.4,436.7 943.8,436.7 923.6,456.9" fill="#bc5550" stroke="#a4443f" stroke-width="1.2" stroke-linejoin="round"/>
<polygon points="923.6,456.9 943.8,436.7 943.8,474 923.6,494.2" fill="#b0514c" stroke="#a4443f" stroke-width="1.2" stroke-linejoin="round"/>
<rect x="917.2" y="456.9" width="6.4" height="37.3" fill="#d2645e" stroke="#a4443f" stroke-width="1.2"/>
<line x1="920.9" y1="456.4" x2="940.1" y2="437.2" stroke="#e08a84" stroke-width="1.92" stroke-linecap="butt" opacity="0.9"/>
<rect x="918.6" y="458.1" width="3.6" height="34.9" fill="#d86c66"/>
</g>
<g filter="url(#sh)">
<polygon points="976.9,446.2 1018.1,405 1024.2,405 983,446.2" fill="#bc5550" stroke="#a4443f" stroke-width="1.2" stroke-linejoin="round"/>
<polygon points="983,446.2 1024.2,405 1024.2,483.7 983,524.9" fill="#b0514c" stroke="#a4443f" stroke-width="1.2" stroke-linejoin="round"/>
<rect x="976.9" y="446.2" width="6.1" height="78.7" fill="#d2645e" stroke="#a4443f" stroke-width="1.2"/>
<line x1="980.45" y1="445.7" x2="1020.65" y2="405.5" stroke="#e08a84" stroke-width="1.83" stroke-linecap="butt" opacity="0.9"/>
<rect x="978.3" y="447.4" width="3.3" height="76.3" fill="#d86c66"/>
</g>
<g filter="url(#sh)">
<circle cx="755.8" cy="464.2" r="9.3" fill="#ffffff" stroke="#c0504d" stroke-width="1"/>
<line x1="747" y1="464.2" x2="764.6" y2="464.2" stroke="#111" stroke-width="1"/>
<line x1="755.8" y1="464.2" x2="755.8" y2="473" stroke="#111" stroke-width="1.4"/>
<circle cx="755.8" cy="464.2" r="3.6" fill="#000"/>
</g>
<g filter="url(#sh)">
<circle cx="796.2" cy="464.2" r="9.3" fill="#ffffff" stroke="#c0504d" stroke-width="1"/>
<line x1="787.4" y1="464.2" x2="805" y2="464.2" stroke="#111" stroke-width="1"/>
<line x1="796.2" y1="464.2" x2="796.2" y2="473" stroke="#111" stroke-width="1.4"/>
<circle cx="796.2" cy="464.2" r="3.6" fill="#000"/>
</g>
<g filter="url(#sh)">
<circle cx="848.4" cy="464.2" r="9.3" fill="#ffffff" stroke="#c0504d" stroke-width="1"/>
<line x1="839.6" y1="464.2" x2="857.2" y2="464.2" stroke="#111" stroke-width="1"/>
<line x1="848.4" y1="464.2" x2="848.4" y2="473" stroke="#111" stroke-width="1.4"/>
<circle cx="848.4" cy="464.2" r="3.6" fill="#000"/>
</g>
<g filter="url(#sh)">
<circle cx="900.9" cy="464.2" r="9.3" fill="#ffffff" stroke="#c0504d" stroke-width="1"/>
<line x1="892.1" y1="464.2" x2="909.7" y2="464.2" stroke="#111" stroke-width="1"/>
<line x1="900.9" y1="464.2" x2="900.9" y2="473" stroke="#111" stroke-width="1.4"/>
<circle cx="900.9" cy="464.2" r="3.6" fill="#000"/>
</g>
<g filter="url(#sh)">
<circle cx="960.4" cy="464.2" r="9.3" fill="#ffffff" stroke="#c0504d" stroke-width="1"/>
<line x1="951.6" y1="464.2" x2="969.2" y2="464.2" stroke="#111" stroke-width="1"/>
<line x1="960.4" y1="464.2" x2="960.4" y2="473" stroke="#111" stroke-width="1.4"/>
<circle cx="960.4" cy="464.2" r="3.6" fill="#000"/>
</g>
<line x1="730.5" y1="417.3" x2="730.5" y2="465.5" stroke="#d06a62" stroke-width="1.3"/>
<line x1="780" y1="417.3" x2="780" y2="466" stroke="#d06a62" stroke-width="1.3"/>
<line x1="824.6" y1="416.3" x2="824.6" y2="459" stroke="#d06a62" stroke-width="1.3"/>
<line x1="870.6" y1="416.3" x2="870.6" y2="452" stroke="#d06a62" stroke-width="1.3"/>
<line x1="930.3" y1="414.5" x2="930.3" y2="445" stroke="#d06a62" stroke-width="1.3"/>
<line x1="990.9" y1="414.5" x2="990.9" y2="440" stroke="#d06a62" stroke-width="1.3"/>
<g filter="url(#sh)">
<rect x="719.4" y="382.2" width="23.2" height="34.8" fill="#a3c1e8" stroke="#8db0dd" stroke-width="1"/>
<rect x="721.2" y="385.7" width="19.6" height="4.63" fill="#ffffff" stroke="#9aa3ad" stroke-width="0.6"/>
<rect x="721.2" y="393.52" width="19.6" height="4.63" fill="#ffffff" stroke="#9aa3ad" stroke-width="0.6"/>
<rect x="721.2" y="401.35" width="19.6" height="4.63" fill="#ffffff" stroke="#9aa3ad" stroke-width="0.6"/>
<rect x="721.2" y="409.18" width="19.6" height="4.63" fill="#ffffff" stroke="#9aa3ad" stroke-width="0.6"/>
<rect x="707.6" y="370.2" width="20.3" height="6.6" rx="0.8" fill="#ffffff" stroke="#3c3c3c" stroke-width="1.1"/>
<rect x="731.5" y="370.2" width="20.4" height="6.6" rx="0.8" fill="#ffffff" stroke="#3c3c3c" stroke-width="1.1"/>
<polyline points="719.78,376.8 731,382.2 740.68,376.8" fill="none" stroke="#222" stroke-width="0.8"/>
</g>
<g filter="url(#sh)">
<rect x="764.2" y="382.2" width="23" height="34.8" fill="#a3c1e8" stroke="#8db0dd" stroke-width="1"/>
<rect x="766" y="385.7" width="19.4" height="4.63" fill="#ffffff" stroke="#9aa3ad" stroke-width="0.6"/>
<rect x="766" y="393.52" width="19.4" height="4.63" fill="#ffffff" stroke="#9aa3ad" stroke-width="0.6"/>
<rect x="766" y="401.35" width="19.4" height="4.63" fill="#ffffff" stroke="#9aa3ad" stroke-width="0.6"/>
<rect x="766" y="409.18" width="19.4" height="4.63" fill="#ffffff" stroke="#9aa3ad" stroke-width="0.6"/>
<rect x="752.6" y="370.2" width="20" height="6.6" rx="0.8" fill="#ffffff" stroke="#3c3c3c" stroke-width="1.1"/>
<rect x="776.3" y="370.2" width="20.3" height="6.6" rx="0.8" fill="#ffffff" stroke="#3c3c3c" stroke-width="1.1"/>
<polyline points="764.6,376.8 775.7,382.2 785.43,376.8" fill="none" stroke="#222" stroke-width="0.8"/>
</g>
<g filter="url(#sh)">
<rect x="814.4" y="381" width="23.2" height="35.3" fill="#a3c1e8" stroke="#8db0dd" stroke-width="1"/>
<rect x="816.2" y="384.5" width="19.6" height="4.75" fill="#ffffff" stroke="#9aa3ad" stroke-width="0.6"/>
<rect x="816.2" y="392.45" width="19.6" height="4.75" fill="#ffffff" stroke="#9aa3ad" stroke-width="0.6"/>
<rect x="816.2" y="400.4" width="19.6" height="4.75" fill="#ffffff" stroke="#9aa3ad" stroke-width="0.6"/>
<rect x="816.2" y="408.35" width="19.6" height="4.75" fill="#ffffff" stroke="#9aa3ad" stroke-width="0.6"/>
<rect x="802.9" y="368.8" width="20.3" height="6.1" rx="0.8" fill="#ffffff" stroke="#3c3c3c" stroke-width="1.1"/>
<rect x="826.7" y="368.8" width="20.2" height="6.1" rx="0.8" fill="#ffffff" stroke="#3c3c3c" stroke-width="1.1"/>
<polyline points="815.08,374.9 826,381 835.79,374.9" fill="none" stroke="#222" stroke-width="0.8"/>
</g>
<g filter="url(#sh)">
<rect x="860.9" y="381" width="22.6" height="35.3" fill="#a3c1e8" stroke="#8db0dd" stroke-width="1"/>
<rect x="862.7" y="384.5" width="19" height="4.75" fill="#ffffff" stroke="#9aa3ad" stroke-width="0.6"/>
<rect x="862.7" y="392.45" width="19" height="4.75" fill="#ffffff" stroke="#9aa3ad" stroke-width="0.6"/>
<rect x="862.7" y="400.4" width="19" height="4.75" fill="#ffffff" stroke="#9aa3ad" stroke-width="0.6"/>
<rect x="862.7" y="408.35" width="19" height="4.75" fill="#ffffff" stroke="#9aa3ad" stroke-width="0.6"/>
<rect x="849.2" y="368.8" width="19.8" height="6.1" rx="0.8" fill="#ffffff" stroke="#3c3c3c" stroke-width="1.1"/>
<rect x="872.7" y="368.8" width="20.1" height="6.1" rx="0.8" fill="#ffffff" stroke="#3c3c3c" stroke-width="1.1"/>
<polyline points="861.08,374.9 872.2,381 881.75,374.9" fill="none" stroke="#222" stroke-width="0.8"/>
</g>
<g filter="url(#sh)">
<rect x="916.8" y="380" width="23.2" height="34.5" fill="#a3c1e8" stroke="#8db0dd" stroke-width="1"/>
<rect x="918.6" y="383.5" width="19.6" height="4.55" fill="#ffffff" stroke="#9aa3ad" stroke-width="0.6"/>
<rect x="918.6" y="391.25" width="19.6" height="4.55" fill="#ffffff" stroke="#9aa3ad" stroke-width="0.6"/>
<rect x="918.6" y="399" width="19.6" height="4.55" fill="#ffffff" stroke="#9aa3ad" stroke-width="0.6"/>
<rect x="918.6" y="406.75" width="19.6" height="4.55" fill="#ffffff" stroke="#9aa3ad" stroke-width="0.6"/>
<rect x="905" y="368" width="20.5" height="6.3" rx="0.8" fill="#ffffff" stroke="#3c3c3c" stroke-width="1.1"/>
<rect x="928.9" y="368" width="20.6" height="6.3" rx="0.8" fill="#ffffff" stroke="#3c3c3c" stroke-width="1.1"/>
<polyline points="917.3,374.3 928.4,380 938.17,374.3" fill="none" stroke="#222" stroke-width="0.8"/>
</g>
<g filter="url(#sh)">
<rect x="981" y="380" width="23" height="34.5" fill="#a3c1e8" stroke="#8db0dd" stroke-width="1"/>
<rect x="982.8" y="383.5" width="19.4" height="4.55" fill="#ffffff" stroke="#9aa3ad" stroke-width="0.6"/>
<rect x="982.8" y="391.25" width="19.4" height="4.55" fill="#ffffff" stroke="#9aa3ad" stroke-width="0.6"/>
<rect x="982.8" y="399" width="19.4" height="4.55" fill="#ffffff" stroke="#9aa3ad" stroke-width="0.6"/>
<rect x="982.8" y="406.75" width="19.4" height="4.55" fill="#ffffff" stroke="#9aa3ad" stroke-width="0.6"/>
<rect x="969.1" y="368" width="20.3" height="6.3" rx="0.8" fill="#ffffff" stroke="#3c3c3c" stroke-width="1.1"/>
<rect x="993" y="368" width="20.4" height="6.3" rx="0.8" fill="#ffffff" stroke="#3c3c3c" stroke-width="1.1"/>
<polyline points="981.28,374.3 992.5,380 1002.18,374.3" fill="none" stroke="#222" stroke-width="0.8"/>
</g>
<path filter="url(#sh)" d="M750.2 557.5 V571 Q750.2 574.6 754 574.6 H883 Q886.7 574.6 886.7 578.5 V593.4 M886.7 578.5 Q886.7 574.6 890.5 574.6 H1019 Q1023 574.6 1023 571 V557.5" fill="none" stroke="#c85d58" stroke-width="2.3" stroke-linecap="round"/>
<text x="850.6" y="609.5" font-size="12" fill="#c0504d" font-weight="bold" stroke="#c0504d" stroke-width="0.35">DSSD Layers</text>
<g filter="url(#sh)">
<rect x="317.3" y="680" width="23.7" height="35.3" fill="#a3c1e8" stroke="#8db0dd" stroke-width="1"/>
<rect x="319.1" y="683.5" width="20.1" height="4.75" fill="#ffffff" stroke="#9aa3ad" stroke-width="0.6"/>
<rect x="319.1" y="691.45" width="20.1" height="4.75" fill="#ffffff" stroke="#9aa3ad" stroke-width="0.6"/>
<rect x="319.1" y="699.4" width="20.1" height="4.75" fill="#ffffff" stroke="#9aa3ad" stroke-width="0.6"/>
<rect x="319.1" y="707.35" width="20.1" height="4.75" fill="#ffffff" stroke="#9aa3ad" stroke-width="0.6"/>
<rect x="305.6" y="668" width="21.3" height="6.7" rx="0.8" fill="#ffffff" stroke="#3c3c3c" stroke-width="1.1"/>
<rect x="329.6" y="668" width="21.2" height="6.7" rx="0.8" fill="#ffffff" stroke="#3c3c3c" stroke-width="1.1"/>
<polyline points="318.38,674.7 329.15,680 339.14,674.7" fill="none" stroke="#222" stroke-width="0.8"/>
</g>
<text x="373.1" y="697.6" font-size="15.4" fill="#111" font-weight="bold" stroke="#111" stroke-width="0.2">Prediction Module</text>
<g filter="url(#sh)">
<circle cx="623.4" cy="690.3" r="16.2" fill="#ffffff" stroke="#c0504d" stroke-width="1.8"/>
<line x1="607.7" y1="690.3" x2="639.1" y2="690.3" stroke="#111" stroke-width="2"/>
<line x1="623.4" y1="690.3" x2="623.4" y2="706" stroke="#111" stroke-width="2.4"/>
<circle cx="623.4" cy="690.3" r="6.4" fill="#000"/>
</g>
<text x="657.3" y="697.7" font-size="15.1" fill="#111" font-weight="bold" stroke="#111" stroke-width="0.2">Deconvolution</text>
<text x="775.2" y="697.7" font-size="15.4" fill="#111" font-weight="bold" stroke="#111" stroke-width="0.2">Module</text>
</svg>
</body></html>
